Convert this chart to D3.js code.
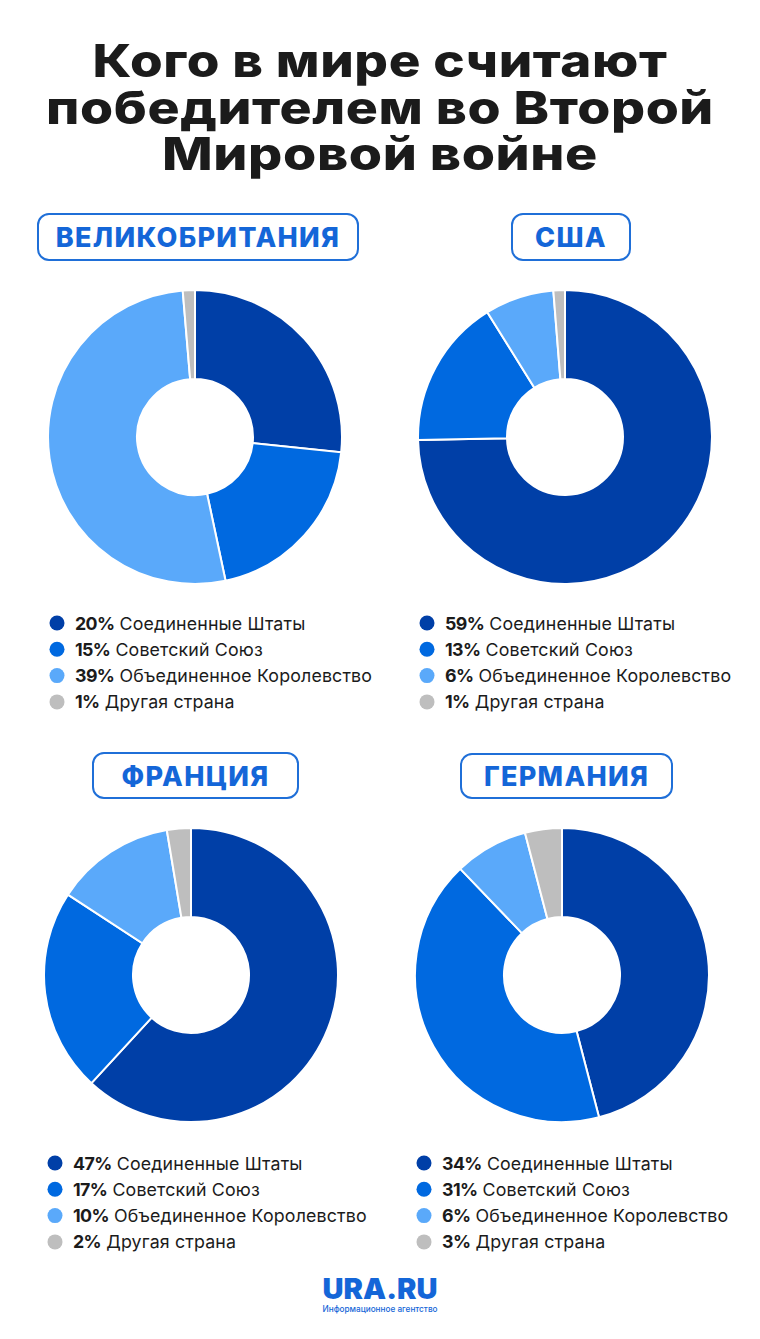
<!DOCTYPE html>
<html>
<head>
<meta charset="utf-8">
<script src="https://cdn.jsdelivr.net/npm/d3@7"></script>
<style>
  body { margin: 0; background: #fff; }
  svg { display: block; }
</style>
</head>
<body>
<div id="viz"></div>
<script>
// chart data
const CATEGORIES = ["Соединенные Штаты", "Советский Союз", "Объединенное Королевство", "Другая страна"];
const COUNTRIES = ["ВЕЛИКОБРИТАНИЯ", "США", "ФРАНЦИЯ", "ГЕРМАНИЯ"];
const UK_VALUES = [20, 15, 39, 1];
const USA_VALUES = [59, 13, 6, 1];
const FRANCE_VALUES = [47, 17, 10, 2];
const GERMANY_VALUES = [34, 31, 6, 3];
const TITLE_LINES = ["Кого в мире считают", "победителем во Второй", "Мировой войне"];

const COLORS = ["#003fa7", "#0069e0", "#5aa9fa", "#bebebe"];

const F_WIDTH = 760;
const F_HEIGHT = 1339;
const R_OUT = 147;
const R_IN = 58;

const FRAME = d3.select("#viz")
  .append("svg")
    .attr("width", F_WIDTH)
    .attr("height", F_HEIGHT);

// title - the original font is wide, so stretch to the same line widths
const TITLE_WIDTHS = [575, 668, 436];
FRAME.selectAll(".title")
  .data(TITLE_LINES)
  .enter()
  .append("text")
    .attr("x", 380)
    .attr("y", (d, i) => 77 + i * 46.5)
    .attr("text-anchor", "middle")
    .attr("font-family", "Inter, 'Open Sans', sans-serif")
    .attr("font-weight", 800)
    .attr("font-size", 45)
    .attr("letter-spacing", 0.5)
    .attr("textLength", (d, i) => TITLE_WIDTHS[i])
    .attr("lengthAdjust", "spacingAndGlyphs")
    .attr("fill", "#1b1b1b")
    .text(d => d);

// panel layout: label box, pie centre, legend
const PANELS = [
  {name: COUNTRIES[0], values: UK_VALUES, box: [38, 214, 320, 46], cx: 195, cy: 437, lx: 57, ly: 623},
  {name: COUNTRIES[1], values: USA_VALUES, box: [512, 214, 118, 46], cx: 565, cy: 437, lx: 427, ly: 623},
  {name: COUNTRIES[2], values: FRANCE_VALUES, box: [93, 753, 205, 45], cx: 191, cy: 975, lx: 55, ly: 1163},
  {name: COUNTRIES[3], values: GERMANY_VALUES, box: [461, 754, 211, 44], cx: 562, cy: 975, lx: 424, ly: 1163}
];

const COLOR = d3.scaleOrdinal().domain(CATEGORIES).range(COLORS);
const PIE = d3.pie().sort(null).value(d => d.value);
const ARC = d3.arc().innerRadius(R_IN).outerRadius(R_OUT);

PANELS.forEach(p => {
  const data = CATEGORIES.map((c, i) => ({cat: c, value: p.values[i]}));

  // country label box
  FRAME.append("rect")
    .attr("x", p.box[0])
    .attr("y", p.box[1])
    .attr("width", p.box[2])
    .attr("height", p.box[3])
    .attr("rx", 11)
    .attr("fill", "#fff")
    .attr("stroke", "#1f6fd8")
    .attr("stroke-width", 2);

  FRAME.append("text")
    .attr("x", p.box[0] + p.box[2] / 2)
    .attr("y", p.box[1] + p.box[3] / 2 + 10)
    .attr("text-anchor", "middle")
    .attr("font-family", "Inter, 'Open Sans', sans-serif")
    .attr("font-weight", 800)
    .attr("font-size", 27)
    .attr("letter-spacing", 1.3)
    .attr("fill", "#1466d8")
    .text(p.name);

  // donut
  const g = FRAME.append("g")
    .attr("transform", "translate(" + p.cx + "," + p.cy + ")");

  g.selectAll("path")
    .data(PIE(data))
    .enter()
    .append("path")
      .attr("d", ARC)
      .attr("fill", d => COLOR(d.data.cat))
      .attr("stroke", "#fff")
      .attr("stroke-width", 2);

  // legend
  const leg = FRAME.append("g")
    .attr("transform", "translate(" + p.lx + "," + p.ly + ")");

  const rows = leg.selectAll("g")
    .data(data)
    .enter()
    .append("g")
      .attr("transform", (d, i) => "translate(0," + i * 26.3 + ")");

  rows.append("circle")
    .attr("r", 7.5)
    .attr("fill", d => COLOR(d.cat));

  const txt = rows.append("text")
    .attr("x", 18)
    .attr("y", 6.5)
    .attr("font-family", "Inter, 'Open Sans', sans-serif")
    .attr("font-size", 17.8)
    .attr("letter-spacing", 0.15)
    .attr("fill", "#1b1b1b");

  txt.append("tspan")
    .attr("font-weight", 700)
    .attr("letter-spacing", -0.6)
    .text(d => d.value + "%");

  txt.append("tspan")
    .attr("font-weight", 400)
    .text(d => " " + d.cat);
});

// logo
FRAME.append("text")
  .attr("x", 380)
  .attr("y", 1299)
  .attr("text-anchor", "middle")
  .attr("font-family", "Inter, sans-serif")
  .attr("font-weight", 900)
  .attr("font-size", 28)
  .attr("textLength", 115)
  .attr("lengthAdjust", "spacingAndGlyphs")
  .attr("fill", "#1466d8")
  .text("URA.RU");

FRAME.append("text")
  .attr("x", 380)
  .attr("y", 1312)
  .attr("text-anchor", "middle")
  .attr("font-family", "Inter, sans-serif")
  .attr("font-weight", 500)
  .attr("font-size", 8.5)
  .attr("textLength", 115)
  .attr("lengthAdjust", "spacingAndGlyphs")
  .attr("fill", "#1466d8")
  .text("Информационное агентство");
</script>
</body>
</html>
